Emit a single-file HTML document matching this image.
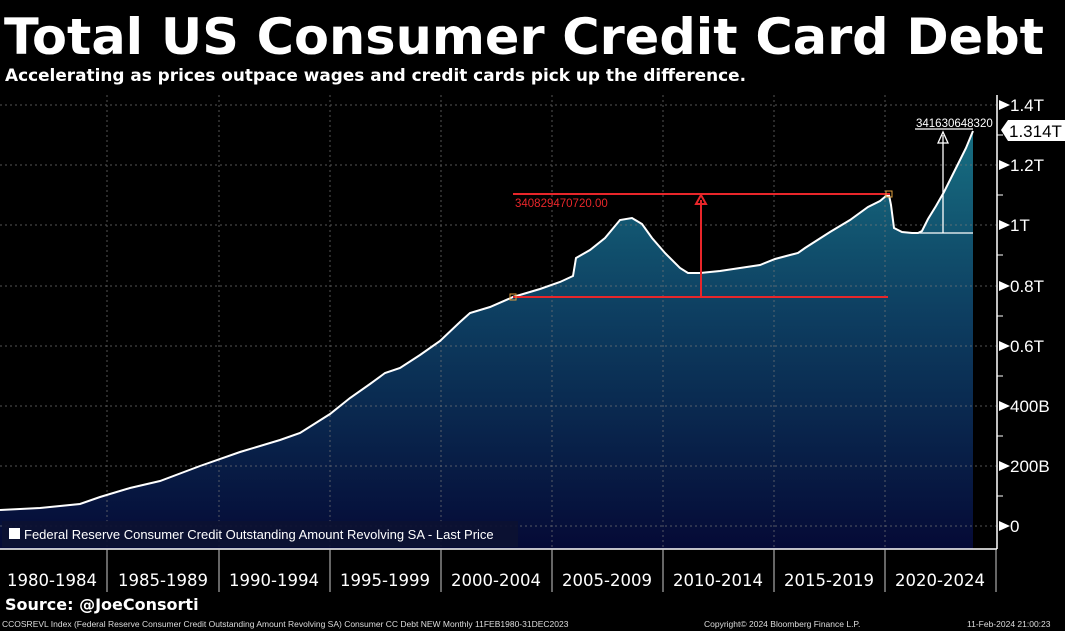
<!DOCTYPE html>
<html><head><meta charset="utf-8"><style>
html,body{margin:0;padding:0;background:#000;width:1065px;height:631px;overflow:hidden}
svg{display:block}
</style></head><body>
<svg width="1065" height="631" viewBox="0 0 1065 631" xmlns="http://www.w3.org/2000/svg">
<defs>
<linearGradient id="fill" gradientUnits="userSpaceOnUse" x1="0" y1="130" x2="0" y2="549">
<stop offset="0" stop-color="#176f82"/>
<stop offset="0.45" stop-color="#0d3d60"/>
<stop offset="1" stop-color="#050a36"/>
</linearGradient>
</defs>
<rect width="1065" height="631" fill="#000"/>
<text x="4" y="54" fill="#fff" font-family="DejaVu Sans, sans-serif" font-weight="bold" font-size="50" textLength="1040" lengthAdjust="spacingAndGlyphs">Total US Consumer Credit Card Debt</text>
<text x="5" y="81" fill="#fff" font-family="DejaVu Sans, sans-serif" font-weight="bold" font-size="16.5" textLength="741" lengthAdjust="spacingAndGlyphs">Accelerating as prices outpace wages and credit cards pick up the difference.</text>

<path d="M0,510 L40,508 L80,504 L100,497 L130,488 L160,481 L200,466 L240,452 L280,440 L300,433 L330,414 L350,398 L370,384 L385,373 L400,368 L420,355 L440,341 L460,322 L470,313 L490,307 L513,297 L540,289 L560,282 L573,276 L576,258 L590,250 L605,238 L620,220 L632,218 L642,224 L652,238 L665,253 L680,268 L688,273 L700,273 L720,271 L740,268 L760,265 L775,259 L790,255 L798,253 L805,248 L830,232 L850,220 L868,207 L880,201 L886,196 L889,195 L891,205 L894,228 L902,232 L912,233 L918,233 L922,231 L928,219 L936,206 L944,192 L952,176 L960,160 L966,148 L973,131 L973,549 L0,549 Z" fill="url(#fill)"/>

<g stroke="#777" stroke-width="1" stroke-dasharray="2,3" opacity="0.7">
<line x1="0" y1="105" x2="997" y2="105"/><line x1="0" y1="165" x2="997" y2="165"/><line x1="0" y1="225" x2="997" y2="225"/><line x1="0" y1="286" x2="997" y2="286"/><line x1="0" y1="346" x2="997" y2="346"/><line x1="0" y1="406" x2="997" y2="406"/><line x1="0" y1="466" x2="997" y2="466"/><line x1="0" y1="526" x2="997" y2="526"/>
<line x1="107" y1="95" x2="107" y2="549"/><line x1="219" y1="95" x2="219" y2="549"/><line x1="330" y1="95" x2="330" y2="549"/><line x1="441" y1="95" x2="441" y2="549"/><line x1="552" y1="95" x2="552" y2="549"/><line x1="663" y1="95" x2="663" y2="549"/><line x1="774" y1="95" x2="774" y2="549"/><line x1="885" y1="95" x2="885" y2="549"/>
</g>

<path d="M0,510 L40,508 L80,504 L100,497 L130,488 L160,481 L200,466 L240,452 L280,440 L300,433 L330,414 L350,398 L370,384 L385,373 L400,368 L420,355 L440,341 L460,322 L470,313 L490,307 L513,297 L540,289 L560,282 L573,276 L576,258 L590,250 L605,238 L620,220 L632,218 L642,224 L652,238 L665,253 L680,268 L688,273 L700,273 L720,271 L740,268 L760,265 L775,259 L790,255 L798,253 L805,248 L830,232 L850,220 L868,207 L880,201 L886,196 L889,195 L891,205 L894,228 L902,232 L912,233 L918,233 L922,231 L928,219 L936,206 L944,192 L952,176 L960,160 L966,148 L973,131" fill="none" stroke="#fff" stroke-width="2"/>

<g stroke="#e8262a" stroke-width="2" fill="none">
<line x1="513" y1="194" x2="890" y2="194"/>
<line x1="513" y1="297" x2="888" y2="297"/>
<line x1="701" y1="297" x2="701" y2="200"/>
<path d="M696,204 L701,195 L706,204 Z"/>
</g>
<rect x="510" y="294" width="6" height="6" fill="none" stroke="#e0a040" stroke-width="1"/>
<rect x="886" y="191" width="6" height="6" fill="none" stroke="#e0a040" stroke-width="1"/>
<text x="515" y="207" fill="#e8262a" font-family="Liberation Sans, sans-serif" font-size="11.5">340829470720.00</text>

<g stroke="#fff" stroke-width="1.3" fill="none">
<line x1="915" y1="233" x2="973" y2="233"/>
<line x1="943" y1="233" x2="943" y2="135"/>
<line x1="915" y1="129" x2="973" y2="129"/>
<path d="M938,143 L943,132 L948,143 Z"/>
</g>
<text x="916" y="127" fill="#fff" font-family="Liberation Sans, sans-serif" font-size="11.5">341630648320</text>

<line x1="997" y1="95" x2="997" y2="549" stroke="#fff" stroke-width="1.5"/>
<line x1="0" y1="549" x2="997" y2="549" stroke="#fff" stroke-width="1.5"/>
<g fill="#fff" font-family="Liberation Sans, sans-serif" font-size="17">
<path d="M999,100 L1010,105 L999,110 Z"/><text x="1010" y="111">1.4T</text>
<path d="M999,160 L1010,165 L999,170 Z"/><text x="1010" y="171">1.2T</text>
<path d="M999,220 L1010,225 L999,230 Z"/><text x="1010" y="231">1T</text>
<path d="M999,281 L1010,286 L999,291 Z"/><text x="1010" y="292">0.8T</text>
<path d="M999,341 L1010,346 L999,351 Z"/><text x="1010" y="352">0.6T</text>
<path d="M999,401 L1010,406 L999,411 Z"/><text x="1010" y="412">400B</text>
<path d="M999,461 L1010,466 L999,471 Z"/><text x="1010" y="472">200B</text>
<path d="M999,521 L1010,526 L999,531 Z"/><text x="1010" y="532">0</text>
</g>
<g stroke="#fff" stroke-width="1"><line x1="997" y1="135" x2="1003" y2="135"/><line x1="997" y1="195" x2="1003" y2="195"/><line x1="997" y1="255" x2="1003" y2="255"/><line x1="997" y1="316" x2="1003" y2="316"/><line x1="997" y1="376" x2="1003" y2="376"/><line x1="997" y1="436" x2="1003" y2="436"/><line x1="997" y1="496" x2="1003" y2="496"/></g>
<path d="M1001,130 L1008,120 L1065,120 L1065,141 L1008,141 Z" fill="#fff"/>
<text x="1009" y="137" fill="#000" font-family="Liberation Sans, sans-serif" font-size="17">1.314T</text>

<rect x="2" y="521" width="516" height="26" fill="#0c1232" opacity="0.9"/>
<rect x="9" y="528" width="11" height="11" fill="#fff"/>
<text x="24" y="539" fill="#fff" font-family="Liberation Sans, sans-serif" font-size="13">Federal Reserve Consumer Credit Outstanding Amount Revolving SA - Last Price</text>

<g stroke="#ccc" stroke-width="1">
<line x1="107" y1="549" x2="107" y2="592"/><line x1="219" y1="549" x2="219" y2="592"/><line x1="330" y1="549" x2="330" y2="592"/><line x1="441" y1="549" x2="441" y2="592"/><line x1="552" y1="549" x2="552" y2="592"/><line x1="663" y1="549" x2="663" y2="592"/><line x1="774" y1="549" x2="774" y2="592"/><line x1="885" y1="549" x2="885" y2="592"/><line x1="996" y1="549" x2="996" y2="592"/>
</g>
<g fill="#fff" font-family="DejaVu Sans, sans-serif" font-size="16.5" text-anchor="middle">
<text x="52" y="586">1980-1984</text><text x="163" y="586">1985-1989</text><text x="274" y="586">1990-1994</text><text x="385" y="586">1995-1999</text><text x="496" y="586">2000-2004</text><text x="607" y="586">2005-2009</text><text x="718" y="586">2010-2014</text><text x="829" y="586">2015-2019</text><text x="940" y="586">2020-2024</text>
</g>
<text x="5" y="610" fill="#fff" font-family="DejaVu Sans, sans-serif" font-weight="bold" font-size="16">Source: @JoeConsorti</text>
<g fill="#ddd" font-family="Liberation Sans, sans-serif" font-size="8.5">
<text x="2" y="627">CCOSREVL Index (Federal Reserve Consumer Credit Outstanding Amount Revolving SA) Consumer CC Debt NEW  Monthly 11FEB1980-31DEC2023</text>
<text x="704" y="627">Copyright© 2024 Bloomberg Finance L.P.</text>
<text x="967" y="627">11-Feb-2024 21:00:23</text>
</g>
</svg>
</body></html>
